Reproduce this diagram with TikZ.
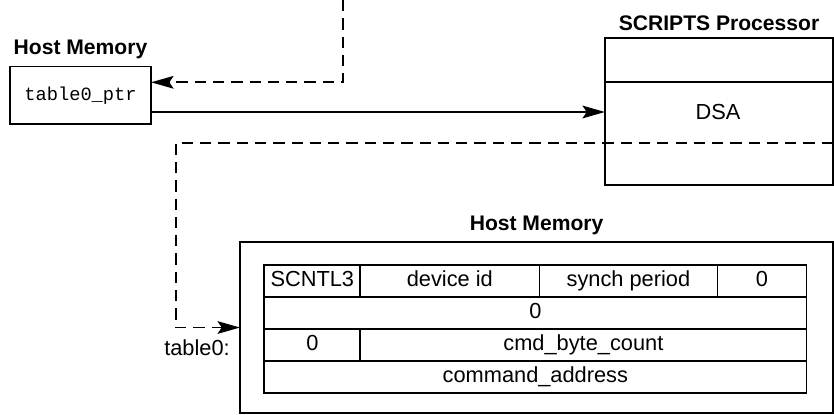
\documentclass[tikz,border=0pt]{standalone}
\usepackage{fontspec}
\setmainfont{Liberation Sans}
\setmonofont{Liberation Mono}
\usetikzlibrary{arrows.meta, positioning}
\tikzset{
    box/.style={rectangle, draw=black, line width=1.3pt, inner sep=0pt, outer sep=0pt},
    cell/.style={rectangle, draw=black, line width=1.2pt, inner sep=0pt, outer sep=0pt, minimum height=0.8cm, anchor=north west, text height=11pt, text depth=3pt, font=\fontsize{15.5}{18}\selectfont},
    heading/.style={font=\fontsize{15}{18}\selectfont\bfseries, inner sep=0pt},
    txt/.style={font=\fontsize{15.5}{18}\selectfont, inner sep=0pt},
    arrow/.style={line width=1.3pt, -{Stealth[length=16pt, width=9pt, inset=3pt]}},
    dasharrow/.style={arrow, dash pattern=on 8pt off 5pt}
}
\begin{document}
\begin{tikzpicture}[x=0.025cm, y=-0.025cm]
    \useasboundingbox (0,0) rectangle (834,414);

    % pointer in host memory
    \node (ptr) [box, minimum width=3.525cm, minimum height=1.44cm, anchor=north west, font=\fontsize{13.3}{16}\selectfont\ttfamily] at (10,66.5) {table0\_ptr};
    \node (ptrtitle) [heading, above=5pt of ptr] {Host Memory};

    % processor
    \node (procTop) [box, minimum width=5.7cm, minimum height=1.115cm, anchor=north west] at (605,37.7) {};
    \node (procBody) [box, minimum width=5.7cm, minimum height=2.57cm, anchor=north] at (procTop.south) {};
    \node (proctitle) [heading, above=5pt of procTop] {SCRIPTS Processor};
    \node (dsa) [txt] at (718,112) {DSA};

    % table in host memory
    \node (outer) [box, minimum width=14.825cm, minimum height=4.26cm, anchor=north west] at (240,242.3) {};
    \node (hmtitle) [heading, above=5pt of outer] {Host Memory};
    \node (scntl) [cell, minimum width=2.4cm] at (264.3,265.3) {SCNTL3};
    \node (devid) [cell, minimum width=4.475cm] at (scntl.north east) {device id};
    \node (synch) [cell, minimum width=4.45cm] at (devid.north east) {synch period};
    \node (zeroA) [cell, minimum width=2.225cm] at (synch.north east) {0};
    \node (zeroB) [cell, minimum width=13.55cm] at (scntl.south west) {0};
    \node (zeroC) [cell, minimum width=2.4cm] at (zeroB.south west) {0};
    \node (count) [cell, minimum width=11.15cm] at (zeroC.north east) {cmd\_byte\_count};
    \node (addr) [cell, minimum width=13.55cm] at (zeroC.south west) {command\_address};
    \node (tbl0) [txt] at (197,348) {table0:};

    % connectors
    \coordinate (top) at (343,0);
    \coordinate (ret) at (833,142.7);
    \coordinate (bend) at (176,142.7);
    \draw [dasharrow] (top) |- (ptr.east |- procTop.south);
    \draw [arrow] (ptr.east |- dsa) -- (procBody.west |- dsa);
    \draw [dasharrow] (ret) -- (bend) |- (outer.west);
\end{tikzpicture}
\end{document}
